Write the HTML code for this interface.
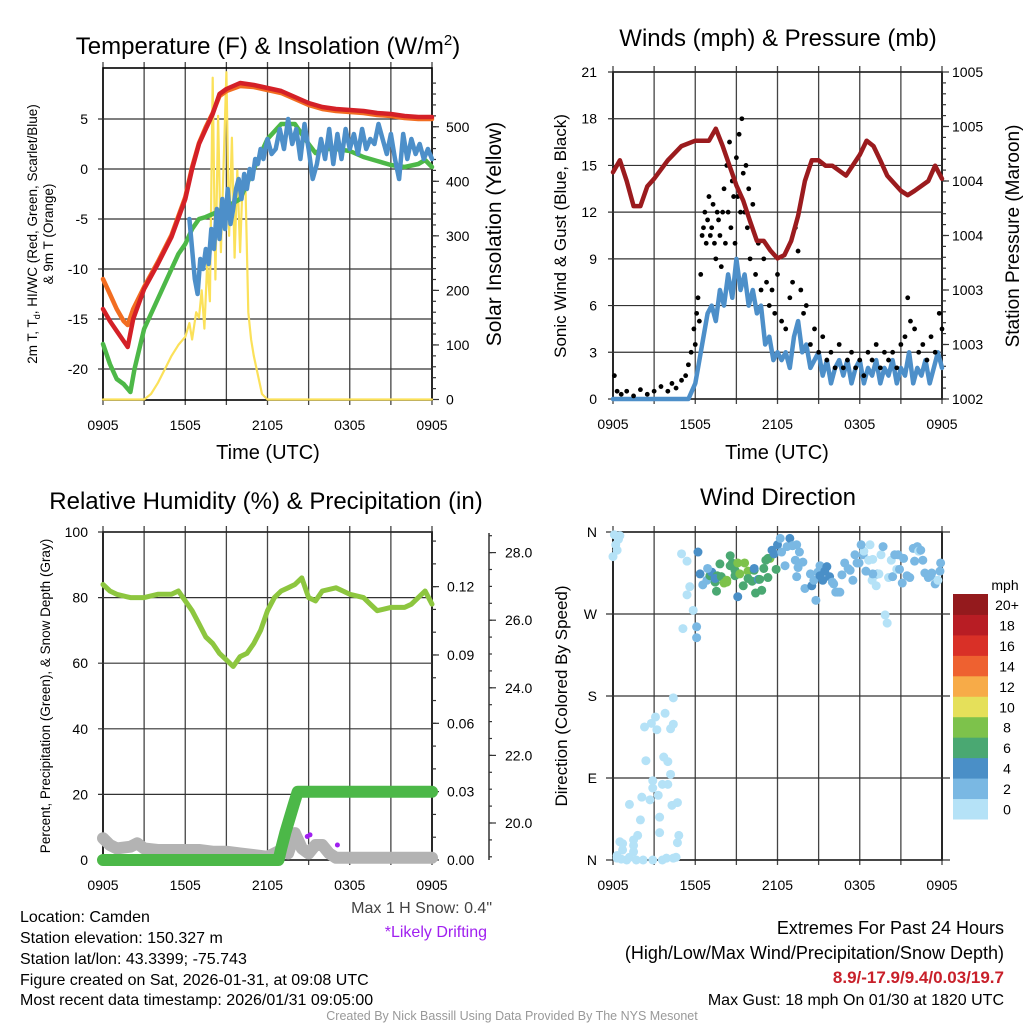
<!DOCTYPE html>
<html><head><meta charset="utf-8"><title>Camden Mesonet Meteogram</title>
<style>
html,body{margin:0;padding:0;background:#fff;}
svg{display:block;font-family:"Liberation Sans",sans-serif;}
.tk{font-size:14px;fill:#000;}
.nar{font-family:"Liberation Sans Narrow","Liberation Sans",sans-serif;}
.ttl{font-size:24px;fill:#000;}
</style></head>
<body>
<svg id="chart" width="1024" height="1024" viewBox="0 0 1024 1024" xmlns="http://www.w3.org/2000/svg">
<rect x="0" y="0" width="1024" height="1024" fill="#fff"/>
<text x="268" y="54" text-anchor="middle" class="ttl">Temperature (F) &amp; Insolation (W/m<tspan dy="-9" font-size="15">2</tspan><tspan dy="9">)</tspan></text>
<text x="778" y="46" text-anchor="middle" class="ttl">Winds (mph) &amp; Pressure (mb)</text>
<text x="266" y="509" text-anchor="middle" class="ttl">Relative Humidity (%) &amp; Precipitation (in)</text>
<text x="778" y="505" text-anchor="middle" class="ttl">Wind Direction</text>
<text x="268" y="459" text-anchor="middle" font-size="20">Time (UTC)</text>
<text x="777" y="459" text-anchor="middle" font-size="20">Time (UTC)</text>
<text transform="translate(37,234) rotate(-90)" text-anchor="middle" font-size="13.5">2m T, T<tspan dy="3" font-size="9">d</tspan><tspan dy="-3">, HI/WC (Red, Green, Scarlet/Blue)</tspan></text>
<text transform="translate(53,234) rotate(-90)" text-anchor="middle" font-size="13.5">&amp; 9m T (Orange)</text>
<text transform="translate(501,234) rotate(-90)" text-anchor="middle" font-size="21">Solar Insolation (Yellow)</text>
<text transform="translate(566,236) rotate(-90)" text-anchor="middle" font-size="17">Sonic Wind &amp; Gust (Blue, Black)</text>
<text transform="translate(1019,236) rotate(-90)" text-anchor="middle" font-size="19">Station Pressure (Maroon)</text>
<text transform="translate(50,696) rotate(-90)" text-anchor="middle" font-size="13.5">Percent, Precipitation (Green), &amp; Snow Depth (Gray)</text>
<text transform="translate(567,696) rotate(-90)" text-anchor="middle" font-size="17">Direction (Colored By Speed)</text>

<g class="nar" font-size="16">
<text x="492" y="913" text-anchor="end" fill="#444">Max 1 H Snow: 0.4"</text>
<text x="487" y="937" text-anchor="end" fill="#a020f0">*Likely Drifting</text>
<text x="20" y="922">Location: Camden</text>
<text x="20" y="943">Station elevation: 150.327 m</text>
<text x="20" y="964">Station lat/lon: 43.3399; -75.743</text>
<text x="20" y="985">Figure created on Sat, 2026-01-31, at 09:08 UTC</text>
<text x="20" y="1005">Most recent data timestamp: 2026/01/31 09:05:00</text>
<text x="1004" y="934" text-anchor="end" font-size="18">Extremes For Past 24 Hours</text>
<text x="1004" y="959" text-anchor="end" font-size="18">(High/Low/Max Wind/Precipitation/Snow Depth)</text>
<text x="1004" y="983" text-anchor="end" font-size="17" font-weight="bold" fill="#c8202a">8.9/-17.9/9.4/0.03/19.7</text>
<text x="1004" y="1005" text-anchor="end">Max Gust: 18 mph On 01/30 at 1820 UTC</text>
<text x="512" y="1020" text-anchor="middle" font-size="12.5" fill="#999">Created By Nick Bassill Using Data Provided By The NYS Mesonet</text>
</g>
</svg>
<script>
// ---------- data ----------
const timeTicks=['0905','1505','2105','0305','0905'];
const tempTicks=[-20,-15,-10,-5,0,5];
const insolTicks=[0,100,200,300,400,500];
const windTicks=[0,3,6,9,12,15,18,21];
const presTickLabels=['1002','1003','1003','1004','1004','1005','1005'];
const rhTicks=[0,20,40,60,80,100];
const precipTicks=[0.00,0.03,0.06,0.09,0.12];
const snowTicks=[20,22,24,26,28];
const dirTicks=['N','E','S','W','N'];
const speedBins=['0','2','4','6','8','10','12','14','16','18','20+'];
const speedColors=['#b5e2f7','#7ab8e3','#4a8fc7','#4aa872','#7dc24b','#e5e05a','#f7ab48','#ee6130','#d93027','#b81d24','#941a1d'];

const tempH=[0,0.5,1,1.5,1.8,2.2,3,4,5,6,6.5,7,7.5,8,8.5,9,10,11,12,13,14,15,16,17,18,19,20,21,22,23,24];
const tempT=[-14,-15.2,-16.2,-17.2,-17.8,-15,-12,-9.5,-6.8,-3,0,2.5,4,5.5,7.5,8,8.6,8.4,8.1,7.8,7.2,6.6,6.2,6.0,5.9,5.8,5.6,5.5,5.3,5.2,5.2];
const t9H=[0,0.5,1,1.5,1.8,2.2,3,4,5,6,6.5,7,7.5,8,8.5,9,10,11,12,13,14,15,16,17,18,19,20,21,22,23,24];
const t9T=[-11,-12.5,-14,-15.2,-15.6,-14,-11.8,-9.3,-6.6,-2.8,0.2,2.6,4.2,5.6,7.3,7.8,8.3,8.2,7.9,7.6,7.0,6.4,6.0,5.8,5.7,5.6,5.4,5.3,5.1,5.0,5.0];
const tdH=[0,0.5,1,1.5,2,2.3,3,4,5,5.5,6,6.5,7,7.5,8,8.5,9,10,10.5,11,11.5,12,13,14,15,15.5,16,17,18,19,20,21,22,23,23.5,24];
const tdT=[-17.5,-19.5,-21,-21.5,-22.3,-20,-16,-13,-10,-8.5,-7.5,-6,-5,-4.8,-4.5,-4.2,-3.8,-3,-1.5,0,1.5,3,4.5,4.5,2.5,1.6,2,2,1.8,1.2,0.8,0.4,0.2,0.5,0.9,0.2];
const wcH=[6.3,6.5,6.7,6.9,7.1,7.3,7.5,7.7,7.9,8.1,8.3,8.5,8.7,8.9,9.1,9.3,9.5,9.7,9.9,10.1,10.3,10.5,10.7,10.9,11.1,11.3,11.5,11.7,12,12.3,12.6,12.9,13.2,13.5,13.8,14.1,14.4,14.7,15,15.3,15.6,15.9,16.2,16.5,16.8,17.1,17.4,17.7,18,18.3,18.6,18.9,19.2,19.5,19.8,20.1,20.4,20.7,21,21.3,21.6,21.9,22.2,22.5,22.8,23.1,23.4,23.7,24];
const wcT=[-5,-8,-11,-12.5,-9,-10,-8,-9.5,-6,-8,-4,-7,-3,-6,-2,-5.5,-4,-2,-1,-3,-0.5,-2,0,-1,1,0.5,2,1,3,1.5,2,4,2,5,2.5,4,1,4.5,2,-1,0.5,3,1,4,0.5,3.5,1,4,2,3.5,1.5,4,2,3,2.5,4.5,3,1.5,3.5,1,-1,3.5,1,3,1.5,2.5,1,2,1];
const insH=[0,3,3.5,4,4.5,5,5.5,6,6.3,6.5,6.8,7,7.2,7.4,7.6,7.8,8.0,8.2,8.4,8.6,8.8,9.0,9.2,9.4,9.6,9.8,10.0,10.2,10.4,10.6,10.8,11.0,11.3,11.6,12,24];
const insV=[0,0,10,30,55,80,100,115,140,110,160,150,200,130,250,180,590,220,520,270,430,600,300,480,260,420,270,410,380,160,110,80,45,10,0,0];
const windH=[0,5.5,6,6.3,6.6,6.9,7.2,7.5,7.8,8.1,8.4,8.7,9,9.3,9.6,9.9,10.2,10.5,10.8,11.1,11.4,11.7,12,12.3,12.6,12.9,13.2,13.5,13.8,14.1,14.4,14.7,15,15.3,15.6,15.9,16.2,16.5,16.8,17.1,17.4,17.7,18,18.3,18.6,18.9,19.2,19.5,19.8,20.1,20.4,20.7,21,21.3,21.6,21.9,22.2,22.5,22.8,23.1,23.4,23.7,24];
const windV=[0,0,1,2.5,4,5.5,6,5,7,6,8,6.5,9,7,8,6,7,5.5,6,3.5,4,2.5,3,2.5,3,2,4,5,3,3.5,2,2.5,3,1.5,2.5,1,2,2.5,1.5,2.5,1,2,2.5,1,2,1.5,2.5,1,2,1.5,2.5,1,2,1.5,3,1,2,1.5,2.5,1,2,3,2];
const gustH=[0.1,0.3,0.6,1.0,1.5,2.0,2.5,3.0,3.5,4.0,4.3,4.6,5.0,5.3,5.5,5.7,5.9,6.0,6.1,6.2,6.3,6.4,6.5,6.6,6.7,6.8,6.9,7.0,7.1,7.2,7.3,7.4,7.5,7.6,7.7,7.8,7.9,8.0,8.1,8.2,8.3,8.4,8.5,8.6,8.7,8.8,8.9,9.0,9.1,9.2,9.3,9.4,9.5,9.6,9.7,9.8,9.9,10.0,10.2,10.4,10.6,10.8,11.0,11.2,11.4,11.6,11.8,12.0,12.3,12.6,12.9,13.1,13.3,13.5,13.7,13.9,14.1,14.4,14.7,15.0,15.3,15.6,15.9,16.2,16.5,16.8,17.1,17.4,17.7,18.0,18.3,18.6,18.9,19.2,19.5,19.8,20.1,20.4,20.7,21.0,21.3,21.5,21.7,22.0,22.3,22.6,22.9,23.2,23.5,23.8,24.0];
const gustV=[1.5,0.5,0.3,0.5,0.2,0.6,0.3,0.5,0.8,0.5,1.0,0.7,1.2,1.5,2.2,3.0,4.5,3.5,5.5,6.5,5.0,8.0,10.5,11.0,12.0,10.0,11.5,13.0,10.5,11.0,12.5,10.0,9.0,12.0,11.5,10.5,8.5,12.0,13.5,10.0,15.0,12.0,16.5,11.0,14.0,13.0,10.0,15.5,13.0,17.0,12.0,18.0,14.5,12.0,15.0,11.0,13.5,9.0,12.5,8.0,10.0,7.0,9.0,7.5,6.0,7.0,5.5,8.0,5.0,4.5,6.5,7.5,11.0,9.5,7.0,5.5,6.0,3.5,4.5,3.0,4.0,2.5,3.0,2.0,3.5,2.0,2.5,3.0,2.0,2.5,1.5,3.0,2.5,3.5,2.0,3.0,2.5,3.0,2.0,3.5,4.0,6.5,5.0,4.5,3.0,3.5,2.5,4.0,3.0,5.5,4.5];
const presH=[0,0.5,1,1.5,2,2.5,3,4,5,6,7,7.5,8,8.5,9,9.5,10,10.5,11,11.5,12,12.5,13,13.5,14,14.5,15,15.5,16,17,18,18.5,19,19.5,20,21,21.5,22,23,23.5,24];
const presP=[1004.08,1004.19,1004.0,1003.77,1003.77,1003.95,1004.02,1004.19,1004.32,1004.37,1004.37,1004.48,1004.32,1004.14,1003.96,1003.82,1003.63,1003.45,1003.45,1003.36,1003.29,1003.32,1003.45,1003.68,1004.0,1004.19,1004.19,1004.14,1004.14,1004.05,1004.24,1004.37,1004.32,1004.19,1004.05,1003.91,1003.87,1003.91,1004.0,1004.14,1004.02];
const rhH=[0,0.5,1,2,3,4,5,5.5,6,6.5,7,7.5,8,8.5,9,9.5,10,10.5,11,11.5,12,12.5,13,13.5,14,14.5,15,15.5,16,17,17.5,18,19,19.5,20,21,22,22.5,23,23.5,24];
const rhV=[84,82,81,80,80,81,81,82,79,76,72,68,66,63,61,59,62,63,66,70,76,80,82,83,84,86,80,79,82,83,82,81,80,78,76,77,77,78,80,82,78];
const precH=[0,12.8,13.0,13.3,13.6,13.9,14.2,24];
const precV=[0,0,0.005,0.012,0.018,0.024,0.03,0.03];
const snowH=[0,0.5,1,2,2.5,3,4,5,6,7,8,9,10,11,12,12.5,13,13.5,14,14.5,15,15.5,16,16.5,17,18,20,22,24];
const snowV=[19.55,19.35,19.25,19.3,19.4,19.25,19.2,19.2,19.2,19.2,19.15,19.15,19.1,19.05,19.0,19.1,19.2,19.1,19.7,19.25,19.1,19.35,19.35,19.1,18.97,18.97,18.97,18.97,18.97];
const driftH=[14.9,15.1,17.1];
const driftV=[19.6,19.65,19.35];
// early (calm) wind direction observations
const dirEarlyH=[0.1,0.2,0.4,0.5,0.0,0.3,0.3,0.6,1.0,1.2,1.7,2.2,2.9,3.6,3.9,4.4,4.6,0.7,1.5,0.5,1.5,1.8,3.4,4.8,4.7,0.7,1.5,0.3,2.0,3.4,2.1,2.7,3.3,1.2,4.3,4.7,2.9,2.9,3.6,4.0,2.4,3.7,4.0,4.2,4.4,3.8,3.1,2.3,2.8,3.2,4.4,4.2];
const dirEarlyD=[357,346,352,356,333,340,2,1,0,3,0,0,0,0,2,2,3,18,16,20,22,27,30,27,19,11,9,5,44,47,69,66,71,61,60,63,87,79,83,83,109,113,108,94,178,161,157,146,150,143,149,144];
// transition + steady NW regime: time (h), direction (deg), speed (mph)
const dirH=[5.0,5.4,5.6,5.4,5.85,6.1,5.1,6.1,
6.2,6.35,6.55,6.85,7.07,7.2,6.9,7.45,7.6,7.8,7.45,7.55,7.9,8.3,8.1,8.3,8.55,8.55,8.7,8.9,9.1,8.9,9.1,9.25,9.5,9.6,9.85,9.85,10.15,10.3,10.3,10.4,10.6,10.7,10.85,11.0,11.15,11.3,11.45,11.3,11.6,11.75,11.9,12.0,12.2,12.3,12.55,12.7,12.9,13.1,13.3,13.1,13.4,13.6,13.85,13.4,13.5,14.0,14.4,14.5,14.65,14.8,14.95,15.1,15.3,15.1,15.45,15.6,15.8,16.0,16.1,16.25,16.4,16.55,16.7,16.9,17.15,17.3,17.5,17.65,17.8,17.95,18.25,18.3,18.1,18.45,18.65,18.75,18.95,18.9,19.05,19.2,19.3,19.4,19.55,19.7,19.85,20.0,20.1,20.3,20.4,20.55,20.7,20.8,20.9,21.1,21.2,21.45,21.65,21.9,22.0,22.2,22.3,22.45,22.6,22.75,23.0,23.2,23.25,23.5,23.7,23.85,23.9,18.95];
const dirD=[336,328,300,291,274,256,254,244,
338,314,302,307,312,316,320,305,312,325,309,295,311,307,304,305,323,334,326,312,289,318,326,314,301,326,317,309,306,318,320,293,308,308,296,320,329,310,331,331,340,336,319,346,353,338,323,344,353,345,329,345,346,338,327,311,321,298,314,301,307,285,316,312,307,323,317,322,311,305,303,294,294,294,313,326,320,318,307,335,326,326,335,339,346,317,329,346,330,307,312,301,314,314,335,344,269,260,310,329,311,335,319,335,319,304,331,312,310,342,328,344,339,340,329,315,310,312,315,303,307,317,326,314,326,307,324,318,357];
const dirS=[0,0,0,0,0,2,0,2,
4,4,2,2,6,4,2,6,6,6,4,6,6,8,8,8,6,6,6,6,4,6,8,8,6,8,8,6,6,6,4,6,4,6,6,6,6,6,8,6,4,4,6,4,2,2,2,2,4,2,2,2,2,2,2,2,2,2,2,4,2,2,2,4,4,2,4,4,4,2,2,2,2,2,2,2,2,2,2,2,2,2,2,0,2,2,0,0,0,0,0,0,2,0,0,2,0,0,0,0,2,2,0,2,2,2,2,2,2,2,2,2,0,2,2,2,2,2,2,2,0,2,2,2,2,2,2,2,2,2,2];

// ---------- helpers ----------
const NS='http://www.w3.org/2000/svg';
const svg=document.getElementById('chart');
function mk(tag,attrs,parent){const e=document.createElementNS(NS,tag);for(const k in attrs)e.setAttribute(k,attrs[k]);(parent||svg).appendChild(e);return e;}
function txt(x,y,s,anchor,cls,parent){const e=mk('text',{x:x,y:y,'text-anchor':anchor,'class':cls},parent);e.textContent=s;return e;}

// axis functions
const X0L=103,X1L=432,X0R=613,X1R=942;
const xL=h=>X0L+h*(X1L-X0L)/24;
const xR=h=>X0R+h*(X1R-X0R)/24;
const yTemp=t=>169-10*t;
const yIns=v=>399.5-v*0.5455;
const yWind=v=>399-v*327/21;
const yPres=p=>399-(p-1002)*109;
const yRH=r=>860-r*3.28;
const yPrec=p=>860-p*2278;
const ySnow=s=>823-(s-20)*33.8;
const yDir=d=>860-d*328/360;
const speedColor=s=>{const c=speedColors[Math.min(10,Math.floor((s||0)/2))];return c||speedColors[1];};

function frame(x0,y0,x1,y1,name){
  const g=mk('g',{});
  
  
  for(let i=0;i<=8;i++){
    const x=x0+i*(x1-x0)/8;
    const l=mk('line',{x1:x,y1:y0-6,x2:x,y2:y1+5,stroke:'#444','stroke-width':1.3},g);
    
    
  }
  const r=mk('rect',{x:x0,y:y0,width:x1-x0,height:y1-y0,fill:'none',stroke:'#000','stroke-width':1.6},g);
  
  
  timeTicks.forEach((s,i)=>{
    const t=txt(x0+i*(x1-x0)/4,y1+30,s,'middle','tk nar',g);
    
    
  });
  return g;
}
function hgrid(g,y,x0,x1){
  const l=mk('line',{x1:x0-5,y1:y,x2:x1,y2:y,stroke:'#333','stroke-width':1.2},g);
  
  
}
function rtick(g,x,y,len){
  const l=mk('line',{x1:x,y1:y,x2:x+len,y2:y,stroke:'#333','stroke-width':1.2},g);
  
  
}
function series(hs,vs,fx,fy,color,w,name){
  const pts=hs.map((h,i)=>fx(h).toFixed(1)+','+fy(vs[i]).toFixed(1)).join(' ');
  const p=mk('polyline',{points:pts,fill:'none',stroke:color,'stroke-width':w,'stroke-linejoin':'round','stroke-linecap':'round'});
  
  
  return p;
}

// ---------- panel 1 ----------
const g1=frame(X0L,68,X1L,400,'temperature-panel');
tempTicks.forEach(t=>{hgrid(g1,yTemp(t),X0L,X1L);
  const e=txt(88,yTemp(t)+5,String(t),'end','tk',g1);
  
  });
insolTicks.forEach(v=>{rtick(g1,X1L,yIns(v),7);
  const e=txt(446,yIns(v)+5,String(v),'start','tk',g1);
  
  });
for(let v=20;v<600;v+=20){rtick(g1,X1L,yIns(v),4);}
series(insH,insV,xL,yIns,'#fbe15a',2.2,'insolation-line');
series(tdH,tdT,xL,yTemp,'#4db848',4.5,'dewpoint-line');
series(wcH,wcT,xL,yTemp,'#4d8fc9',4.5,'windchill-line');
series(t9H,t9T,xL,yTemp,'#f26d21',4.5,'temp-9m-line');
series(tempH,tempT,xL,yTemp,'#d42027',4.5,'temp-2m-line');

// ---------- panel 2 ----------
const g2=frame(X0R,72,X1R,399,'winds-panel');
windTicks.forEach(v=>{hgrid(g2,yWind(v),X0R,X1R);
  const e=txt(597,yWind(v)+5,String(v),'end','tk',g2);
  
  });
presTickLabels.forEach((s,i)=>{const y=399-i*327/6;rtick(g2,X1R,y,7);
  const e=txt(952,y+5,s,'start','tk',g2);
  
  });
for(let i=0;i<30;i++){rtick(g2,X1R,399-i*327/30,4);}
series(windH,windV,xR,yWind,'#4d8fc9',4.5,'sonic-wind-line');
gustH.forEach((h,i)=>{
  const c=mk('circle',{cx:xR(h),cy:yWind(gustV[i]),r:2.4,fill:'#000'});
  
  
});
series(presH,presP,xR,yPres,'#9b1b1e',4.5,'pressure-line');

// ---------- panel 3 ----------
const g3=frame(X0L,532,X1L,860,'humidity-panel');
rhTicks.forEach(v=>{hgrid(g3,yRH(v),X0L,X1L);
  const e=txt(88,yRH(v)+5,String(v),'end','tk',g3);
  
  });
precipTicks.forEach(v=>{rtick(g3,X1L,yPrec(v),7);
  const e=txt(447,yPrec(v)+5,v.toFixed(2),'start','tk',g3);
  
  });
for(let v=0;v<0.143;v+=0.01){rtick(g3,X1L,yPrec(v),4);}
const sa=mk('line',{x1:489,y1:533,x2:489,y2:860,stroke:'#333','stroke-width':1.5});


snowTicks.forEach(v=>{rtick(g3,489,ySnow(v),7);
  const e=txt(505,ySnow(v)+5,v.toFixed(1),'start','tk',g3);
  
  });
for(let v=19;v<28.6;v+=0.5){rtick(g3,489,ySnow(v),3);}
series(snowH,snowV,xL,ySnow,'#b3b3b3',12,'snow-depth-line');
series(precH,precV,xL,yPrec,'#4cb848',12,'precip-line');
series(rhH,rhV,xL,yRH,'#8dc63f',5,'rh-line');
driftH.forEach((h,i)=>{
  const c=mk('circle',{cx:xL(h),cy:ySnow(driftV[i]),r:2.5,fill:'#a020f0'});
  
  
});

// ---------- panel 4 ----------
const g4=frame(X0R,532,X1R,860,'wind-direction-panel');
dirTicks.forEach((s,i)=>{const y=yDir(i*90);hgrid(g4,y,X0R-2,X1R+8);
  const e=txt(597,y+5,s,'end','tk',g4);
  
  });
dirEarlyH.forEach((h,i)=>{
  const c=mk('circle',{cx:xR(h),cy:yDir(dirEarlyD[i]),r:4.5,fill:speedColors[0]});
  
  
});
dirH.forEach((h,i)=>{
  const c=mk('circle',{cx:xR(h),cy:yDir(dirD[i]),r:4.5,fill:speedColor(dirS[i])});
  
  
});
// colorbar
const cb=mk('g',{});


const mt=txt(1005,590,'mph','middle','tk',cb);


speedBins.forEach((s,i)=>{
  const y=819-(i+1)*225/11;
  const r=mk('rect',{x:953,y:y,width:35,height:225/11+0.5,fill:speedColors[i]},cb);
  
  
  const t=txt(1007,y+16,s,'middle','tk',cb);
  
  
});
</script>
</body></html>
